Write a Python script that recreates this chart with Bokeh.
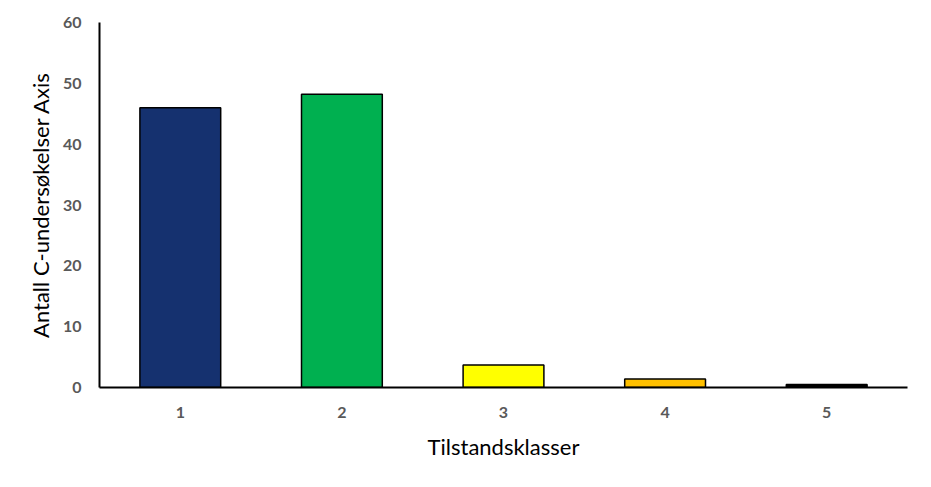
from bokeh.plotting import figure
from bokeh.models import FactorRange, Range1d, FixedTicker, ColumnDataSource
from bokeh.embed import file_html
from bokeh.resources import INLINE

categories = ["1", "2", "3", "4", "5"]
values = [46.0, 48.2, 3.7, 1.4, 0.5]
colors = ["#15316F", "#00B050", "#FFFF00", "#FFC000", "#000000"]
y_ticks = [0, 10, 20, 30, 40, 50, 60]

src = ColumnDataSource(dict(cat=categories, val=values, col=colors))

p = figure(width=915, height=471, output_backend="svg", toolbar_location=None,
           x_range=FactorRange(*categories, range_padding=0),
           y_range=Range1d(0, 60),
           min_border_left=99, min_border_right=8, min_border_top=22, min_border_bottom=84)

p.vbar(x="cat", top="val", width=0.5, source=src, fill_color="col",
       line_color="black", line_width=1.5)

p.xgrid.visible = False
p.ygrid.visible = False
p.outline_line_color = None

for ax in (p.xaxis[0], p.yaxis[0]):
    ax.axis_line_color = "black"
    ax.axis_line_width = 2
    ax.major_tick_in = 0
    ax.major_tick_out = 0
    ax.minor_tick_in = 0
    ax.minor_tick_out = 0
    ax.major_label_text_font = "Lato"
    ax.major_label_text_font_style = "bold"
    ax.major_label_text_font_size = "16px"
    ax.major_label_text_color = "#595959"
    ax.axis_label_text_font = "Lato"
    ax.axis_label_text_font_style = "normal"
    ax.axis_label_text_font_size = "22px"
    ax.axis_label_text_color = "black"

p.yaxis.ticker = FixedTicker(ticks=y_ticks)
p.yaxis.axis_label = "Antall C-undersøkelser Axis"
p.xaxis.axis_label = "Tilstandsklasser"
p.yaxis.major_label_standoff = 18
p.yaxis.axis_label_standoff = 6
p.xaxis.major_label_standoff = 19
p.xaxis.axis_label_standoff = 12

open("out.html", "w").write(file_html(p, INLINE))
